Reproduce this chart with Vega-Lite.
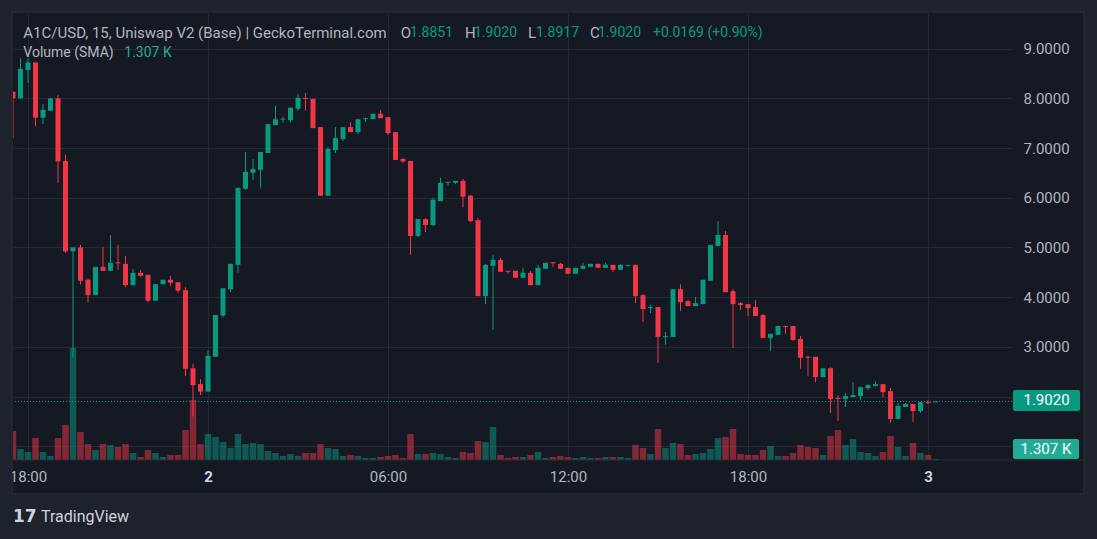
{
  "$schema": "https://vega.github.io/schema/vega-lite/v6.json",
  "width": 999,
  "height": 447,
  "autosize": {"type": "none"},
  "padding": {"left": 13, "top": 13, "right": 85, "bottom": 79},
  "background": "#151924",
  "config": {"view": {"stroke": null}, "font": "Roboto"},
  "datasets": {
    "one": [{}],
    "candles": [
      {"t": 17.5, "o": 8.13, "h": 8.14, "l": 7.2, "c": 8.0, "v": 3160},
      {"t": 17.75, "o": 8.0, "h": 8.81, "l": 7.99, "c": 8.59, "v": 1200},
      {"t": 18.0, "o": 8.57, "h": 8.8, "l": 8.31, "c": 8.72, "v": 870},
      {"t": 18.25, "o": 8.72, "h": 8.72, "l": 7.44, "c": 7.61, "v": 2400},
      {"t": 18.5, "o": 7.61, "h": 7.89, "l": 7.48, "c": 7.77, "v": 870},
      {"t": 18.75, "o": 7.75, "h": 8.01, "l": 7.74, "c": 8.0, "v": 440},
      {"t": 19.0, "o": 8.0, "h": 8.07, "l": 6.3, "c": 6.73, "v": 2400},
      {"t": 19.25, "o": 6.74, "h": 6.87, "l": 4.89, "c": 4.92, "v": 3820},
      {"t": 19.5, "o": 4.92, "h": 5.0, "l": 2.8, "c": 5.0, "v": 12210},
      {"t": 19.75, "o": 5.0, "h": 5.05, "l": 4.25, "c": 4.33, "v": 3050},
      {"t": 20.0, "o": 4.35, "h": 4.38, "l": 3.89, "c": 4.04, "v": 1740},
      {"t": 20.25, "o": 4.04, "h": 4.61, "l": 4.04, "c": 4.61, "v": 1090},
      {"t": 20.5, "o": 4.61, "h": 5.01, "l": 4.53, "c": 4.53, "v": 1740},
      {"t": 20.75, "o": 4.53, "h": 5.25, "l": 4.53, "c": 4.69, "v": 1640},
      {"t": 21.0, "o": 4.7, "h": 5.05, "l": 4.55, "c": 4.68, "v": 1420},
      {"t": 21.25, "o": 4.67, "h": 4.83, "l": 4.2, "c": 4.24, "v": 1740},
      {"t": 21.5, "o": 4.24, "h": 4.57, "l": 4.24, "c": 4.49, "v": 760},
      {"t": 21.75, "o": 4.49, "h": 4.55, "l": 4.41, "c": 4.43, "v": 330},
      {"t": 22.0, "o": 4.45, "h": 4.45, "l": 3.9, "c": 3.93, "v": 1090},
      {"t": 22.25, "o": 3.93, "h": 4.26, "l": 3.93, "c": 4.26, "v": 760},
      {"t": 22.5, "o": 4.26, "h": 4.35, "l": 4.26, "c": 4.35, "v": 330},
      {"t": 22.75, "o": 4.35, "h": 4.43, "l": 4.23, "c": 4.29, "v": 550},
      {"t": 23.0, "o": 4.3, "h": 4.3, "l": 4.09, "c": 4.13, "v": 550},
      {"t": 23.25, "o": 4.14, "h": 4.2, "l": 2.41, "c": 2.56, "v": 3270},
      {"t": 23.5, "o": 2.57, "h": 2.66, "l": 1.6, "c": 2.23, "v": 6540},
      {"t": 23.75, "o": 2.25, "h": 2.35, "l": 2.03, "c": 2.1, "v": 1740},
      {"t": 24.0, "o": 2.1, "h": 2.92, "l": 2.1, "c": 2.82, "v": 2830},
      {"t": 24.25, "o": 2.8, "h": 3.64, "l": 2.8, "c": 3.64, "v": 2510},
      {"t": 24.5, "o": 3.63, "h": 4.18, "l": 3.59, "c": 4.18, "v": 1960},
      {"t": 24.75, "o": 4.16, "h": 4.67, "l": 4.1, "c": 4.67, "v": 1310},
      {"t": 25.0, "o": 4.65, "h": 6.2, "l": 4.49, "c": 6.2, "v": 2830},
      {"t": 25.25, "o": 6.18, "h": 6.92, "l": 6.16, "c": 6.52, "v": 1740},
      {"t": 25.5, "o": 6.5, "h": 6.78, "l": 6.36, "c": 6.58, "v": 1850},
      {"t": 25.75, "o": 6.56, "h": 6.92, "l": 6.2, "c": 6.92, "v": 1740},
      {"t": 26.0, "o": 6.9, "h": 7.48, "l": 6.9, "c": 7.48, "v": 980},
      {"t": 26.25, "o": 7.46, "h": 7.85, "l": 7.46, "c": 7.58, "v": 760},
      {"t": 26.5, "o": 7.57, "h": 7.63, "l": 7.51, "c": 7.59, "v": 440},
      {"t": 26.75, "o": 7.56, "h": 7.81, "l": 7.51, "c": 7.81, "v": 650},
      {"t": 27.0, "o": 7.79, "h": 8.09, "l": 7.75, "c": 8.01, "v": 440},
      {"t": 27.25, "o": 8.01, "h": 8.11, "l": 7.75, "c": 7.99, "v": 760},
      {"t": 27.5, "o": 7.99, "h": 7.99, "l": 7.4, "c": 7.4, "v": 760},
      {"t": 27.75, "o": 7.42, "h": 7.42, "l": 6.04, "c": 6.04, "v": 1740},
      {"t": 28.0, "o": 6.04, "h": 7.02, "l": 6.04, "c": 6.98, "v": 1310},
      {"t": 28.25, "o": 6.96, "h": 7.42, "l": 6.9, "c": 7.2, "v": 1200},
      {"t": 28.5, "o": 7.18, "h": 7.42, "l": 7.14, "c": 7.42, "v": 440},
      {"t": 28.75, "o": 7.42, "h": 7.52, "l": 7.32, "c": 7.32, "v": 550},
      {"t": 29.0, "o": 7.32, "h": 7.58, "l": 7.28, "c": 7.58, "v": 440},
      {"t": 29.25, "o": 7.58, "h": 7.61, "l": 7.52, "c": 7.6, "v": 220},
      {"t": 29.5, "o": 7.58, "h": 7.69, "l": 7.58, "c": 7.69, "v": 220},
      {"t": 29.75, "o": 7.69, "h": 7.77, "l": 7.6, "c": 7.6, "v": 330},
      {"t": 30.0, "o": 7.62, "h": 7.62, "l": 7.26, "c": 7.3, "v": 440},
      {"t": 30.25, "o": 7.32, "h": 7.32, "l": 6.76, "c": 6.76, "v": 550},
      {"t": 30.5, "o": 6.78, "h": 6.8, "l": 6.7, "c": 6.73, "v": 220},
      {"t": 30.75, "o": 6.74, "h": 6.74, "l": 4.85, "c": 5.23, "v": 2830},
      {"t": 31.0, "o": 5.23, "h": 5.57, "l": 5.21, "c": 5.57, "v": 650},
      {"t": 31.25, "o": 5.57, "h": 5.59, "l": 5.31, "c": 5.45, "v": 650},
      {"t": 31.5, "o": 5.45, "h": 6.0, "l": 5.43, "c": 5.96, "v": 760},
      {"t": 31.75, "o": 5.93, "h": 6.4, "l": 5.93, "c": 6.3, "v": 650},
      {"t": 32.0, "o": 6.3, "h": 6.32, "l": 6.24, "c": 6.32, "v": 330},
      {"t": 32.25, "o": 6.3, "h": 6.34, "l": 6.28, "c": 6.34, "v": 220},
      {"t": 32.5, "o": 6.34, "h": 6.38, "l": 5.81, "c": 6.02, "v": 870},
      {"t": 32.75, "o": 6.04, "h": 6.06, "l": 5.51, "c": 5.53, "v": 760},
      {"t": 33.0, "o": 5.55, "h": 5.59, "l": 4.02, "c": 4.02, "v": 2070},
      {"t": 33.25, "o": 4.02, "h": 4.67, "l": 3.86, "c": 4.65, "v": 1960},
      {"t": 33.5, "o": 4.63, "h": 4.85, "l": 3.34, "c": 4.75, "v": 3600},
      {"t": 33.75, "o": 4.75, "h": 4.79, "l": 4.51, "c": 4.51, "v": 550},
      {"t": 34.0, "o": 4.53, "h": 4.53, "l": 4.47, "c": 4.51, "v": 220},
      {"t": 34.25, "o": 4.53, "h": 4.53, "l": 4.39, "c": 4.39, "v": 330},
      {"t": 34.5, "o": 4.39, "h": 4.59, "l": 4.39, "c": 4.49, "v": 330},
      {"t": 34.75, "o": 4.49, "h": 4.53, "l": 4.24, "c": 4.24, "v": 550},
      {"t": 35.0, "o": 4.24, "h": 4.65, "l": 4.24, "c": 4.59, "v": 870},
      {"t": 35.25, "o": 4.57, "h": 4.69, "l": 4.57, "c": 4.69, "v": 220},
      {"t": 35.5, "o": 4.7, "h": 4.71, "l": 4.61, "c": 4.68, "v": 330},
      {"t": 35.75, "o": 4.67, "h": 4.69, "l": 4.57, "c": 4.57, "v": 440},
      {"t": 36.0, "o": 4.59, "h": 4.59, "l": 4.47, "c": 4.47, "v": 330},
      {"t": 36.25, "o": 4.47, "h": 4.59, "l": 4.47, "c": 4.59, "v": 220},
      {"t": 36.5, "o": 4.57, "h": 4.69, "l": 4.57, "c": 4.63, "v": 330},
      {"t": 36.75, "o": 4.61, "h": 4.67, "l": 4.61, "c": 4.67, "v": 220},
      {"t": 37.0, "o": 4.67, "h": 4.67, "l": 4.59, "c": 4.59, "v": 220},
      {"t": 37.25, "o": 4.59, "h": 4.69, "l": 4.59, "c": 4.65, "v": 330},
      {"t": 37.5, "o": 4.65, "h": 4.65, "l": 4.51, "c": 4.55, "v": 330},
      {"t": 37.75, "o": 4.55, "h": 4.67, "l": 4.55, "c": 4.65, "v": 330},
      {"t": 38.0, "o": 4.63, "h": 4.65, "l": 4.61, "c": 4.65, "v": 220},
      {"t": 38.25, "o": 4.65, "h": 4.65, "l": 3.88, "c": 4.02, "v": 1640},
      {"t": 38.5, "o": 4.04, "h": 4.06, "l": 3.5, "c": 3.76, "v": 1310},
      {"t": 38.75, "o": 3.78, "h": 3.84, "l": 3.68, "c": 3.8, "v": 650},
      {"t": 39.0, "o": 3.8, "h": 3.8, "l": 2.68, "c": 3.2, "v": 3380},
      {"t": 39.25, "o": 3.2, "h": 3.3, "l": 3.04, "c": 3.22, "v": 1310},
      {"t": 39.5, "o": 3.2, "h": 4.16, "l": 3.2, "c": 4.16, "v": 1850},
      {"t": 39.75, "o": 4.16, "h": 4.26, "l": 3.72, "c": 3.9, "v": 1740},
      {"t": 40.0, "o": 3.92, "h": 3.94, "l": 3.82, "c": 3.82, "v": 550},
      {"t": 40.25, "o": 3.82, "h": 4.0, "l": 3.82, "c": 3.88, "v": 650},
      {"t": 40.5, "o": 3.86, "h": 4.35, "l": 3.86, "c": 4.35, "v": 760},
      {"t": 40.75, "o": 4.33, "h": 5.05, "l": 4.33, "c": 5.05, "v": 1200},
      {"t": 41.0, "o": 5.03, "h": 5.53, "l": 5.03, "c": 5.25, "v": 2400},
      {"t": 41.25, "o": 5.25, "h": 5.33, "l": 4.1, "c": 4.1, "v": 2510},
      {"t": 41.5, "o": 4.12, "h": 4.16, "l": 2.98, "c": 3.86, "v": 3380},
      {"t": 41.75, "o": 3.88, "h": 3.9, "l": 3.74, "c": 3.84, "v": 650},
      {"t": 42.0, "o": 3.86, "h": 3.86, "l": 3.62, "c": 3.78, "v": 550},
      {"t": 42.25, "o": 3.8, "h": 3.94, "l": 3.62, "c": 3.62, "v": 550},
      {"t": 42.5, "o": 3.64, "h": 3.66, "l": 3.18, "c": 3.18, "v": 1090},
      {"t": 42.75, "o": 3.18, "h": 3.26, "l": 2.92, "c": 3.26, "v": 1530},
      {"t": 43.0, "o": 3.24, "h": 3.42, "l": 3.24, "c": 3.42, "v": 440},
      {"t": 43.25, "o": 3.42, "h": 3.42, "l": 3.26, "c": 3.4, "v": 440},
      {"t": 43.5, "o": 3.42, "h": 3.42, "l": 3.12, "c": 3.14, "v": 760},
      {"t": 43.75, "o": 3.16, "h": 3.22, "l": 2.56, "c": 2.78, "v": 1640},
      {"t": 44.0, "o": 2.8, "h": 2.82, "l": 2.41, "c": 2.78, "v": 1420},
      {"t": 44.25, "o": 2.8, "h": 2.8, "l": 2.29, "c": 2.39, "v": 1310},
      {"t": 44.5, "o": 2.39, "h": 2.57, "l": 2.39, "c": 2.57, "v": 550},
      {"t": 44.75, "o": 2.57, "h": 2.59, "l": 1.67, "c": 1.95, "v": 2620},
      {"t": 45.0, "o": 1.97, "h": 2.03, "l": 1.51, "c": 1.95, "v": 3270},
      {"t": 45.25, "o": 1.95, "h": 2.07, "l": 1.79, "c": 2.01, "v": 1640},
      {"t": 45.5, "o": 1.99, "h": 2.29, "l": 1.99, "c": 2.03, "v": 2290},
      {"t": 45.75, "o": 2.01, "h": 2.19, "l": 1.93, "c": 2.19, "v": 870},
      {"t": 46.0, "o": 2.17, "h": 2.25, "l": 2.13, "c": 2.23, "v": 760},
      {"t": 46.25, "o": 2.21, "h": 2.31, "l": 2.21, "c": 2.25, "v": 440},
      {"t": 46.5, "o": 2.25, "h": 2.25, "l": 1.99, "c": 2.09, "v": 870},
      {"t": 46.75, "o": 2.11, "h": 2.17, "l": 1.47, "c": 1.55, "v": 2620},
      {"t": 47.0, "o": 1.55, "h": 1.87, "l": 1.55, "c": 1.81, "v": 1420},
      {"t": 47.25, "o": 1.79, "h": 1.87, "l": 1.79, "c": 1.85, "v": 440},
      {"t": 47.5, "o": 1.85, "h": 1.85, "l": 1.49, "c": 1.71, "v": 1850},
      {"t": 47.75, "o": 1.71, "h": 1.89, "l": 1.67, "c": 1.89, "v": 760},
      {"t": 48.0, "o": 1.89, "h": 1.93, "l": 1.85, "c": 1.87, "v": 550},
      {"t": 48.25, "o": 1.8851, "h": 1.902, "l": 1.8851, "c": 1.902, "v": 110}
    ]
  },
  "layer": [
    {
      "data": {"name": "candles"},
      "mark": {"type": "bar", "width": 6.5, "clip": true},
      "encoding": {
        "x": {"field": "t", "type": "quantitative", "scale": {"domain": [17.5, 50.8], "nice": false, "zero": false, "padding": 0}},
        "y": {"field": "v", "type": "quantitative", "scale": {"domain": [0, 48700], "nice": false, "zero": true}, "axis": null},
        "color": {"condition": {"test": "datum.c >= datum.o", "value": "#089981"}, "value": "#f23645"},
        "opacity": {"value": 0.5}
      }
    },
    {
      "data": {"name": "one"},
      "layer": [
        {
          "mark": {"type": "rule", "color": "#089981", "strokeDash": [1, 2], "strokeWidth": 1},
          "encoding": {"y": {"datum": 1.902}}
        },
        {
          "data": {"name": "candles"},
          "mark": {"type": "rule", "strokeWidth": 1, "clip": true},
          "encoding": {
            "x": {
              "field": "t", "type": "quantitative",
              "scale": {"domain": [17.5, 50.8], "nice": false, "zero": false, "padding": 0},
              "axis": {
                "title": null, "values": [18, 24, 30, 36, 42, 48],
                "labelExpr": "datum.value % 24 == 0 ? '' + (datum.value / 24 + 1) : ((datum.value % 24) < 10 ? '0' : '') + (datum.value % 24) + ':00'",
                "grid": true, "gridColor": "#252935", "gridWidth": 1,
                "domain": false, "ticks": false, "tickSize": 0,
                "labelPadding": 9, "labelFontSize": 15, "labelFont": "Roboto",
                "labelColor": {"condition": {"test": "datum.value % 24 == 0", "value": "#d1d4dc"}, "value": "#b2b5be"},
                "labelFontWeight": {"condition": {"test": "datum.value % 24 == 0", "value": "bold"}, "value": "normal"},
                "labelFlush": false, "labelOverlap": false
              }
            },
            "y": {
              "field": "l", "type": "quantitative",
              "scale": {"domain": [0.724, 9.716], "nice": false, "zero": false},
              "axis": {
                "title": null, "orient": "right", "values": [1, 2, 3, 4, 5, 6, 7, 8, 9],
                "format": ".4f",
                "labelExpr": "datum.value >= 3 ? datum.label : ''",
                "grid": true, "gridColor": "#252935", "gridWidth": 1,
                "domain": false, "ticks": false, "tickSize": 0,
                "labelPadding": 11, "labelFontSize": 15, "labelFont": "Roboto", "labelColor": "#b2b5be",
                "labelOverlap": false, "labelFlush": false
              }
            },
            "y2": {"field": "h"},
            "color": {"condition": {"test": "datum.c >= datum.o", "value": "#089981"}, "value": "#f23645"}
          }
        },
        {
          "data": {"name": "candles"},
          "mark": {"type": "bar", "width": 5, "clip": true},
          "encoding": {
            "x": {"field": "t", "type": "quantitative"},
            "y": {"field": "o", "type": "quantitative"},
            "y2": {"field": "c"},
            "color": {"condition": {"test": "datum.c >= datum.o", "value": "#089981"}, "value": "#f23645"}
          }
        },
        {
          "mark": {"type": "text", "align": "left", "baseline": "middle", "fontSize": 15, "font": "Roboto", "color": "#b2b5be", "text": "A1C/USD, 15, Uniswap V2 (Base) | GeckoTerminal.com"},
          "encoding": {"x": {"datum": 17.8444}, "y": {"datum": 9.314}}
        },
        {
          "mark": {"type": "text", "align": "left", "baseline": "middle", "fontSize": 15, "font": "Roboto", "color": "#b2b5be", "text": "O"},
          "encoding": {"x": {"datum": 30.423}, "y": {"datum": 9.314}}
        },
        {
          "mark": {"type": "text", "align": "left", "baseline": "middle", "fontSize": 14, "font": "Roboto", "color": "#089981", "text": "1.8851"},
          "encoding": {"x": {"datum": 30.733}, "y": {"datum": 9.314}}
        },
        {
          "mark": {"type": "text", "align": "left", "baseline": "middle", "fontSize": 15, "font": "Roboto", "color": "#b2b5be", "text": "H"},
          "encoding": {"x": {"datum": 32.567}, "y": {"datum": 9.314}}
        },
        {
          "mark": {"type": "text", "align": "left", "baseline": "middle", "fontSize": 14, "font": "Roboto", "color": "#089981", "text": "1.9020"},
          "encoding": {"x": {"datum": 32.867}, "y": {"datum": 9.314}}
        },
        {
          "mark": {"type": "text", "align": "left", "baseline": "middle", "fontSize": 15, "font": "Roboto", "color": "#b2b5be", "text": "L"},
          "encoding": {"x": {"datum": 34.667}, "y": {"datum": 9.314}}
        },
        {
          "mark": {"type": "text", "align": "left", "baseline": "middle", "fontSize": 14, "font": "Roboto", "color": "#089981", "text": "1.8917"},
          "encoding": {"x": {"datum": 34.933}, "y": {"datum": 9.314}}
        },
        {
          "mark": {"type": "text", "align": "left", "baseline": "middle", "fontSize": 15, "font": "Roboto", "color": "#b2b5be", "text": "C"},
          "encoding": {"x": {"datum": 36.733}, "y": {"datum": 9.314}}
        },
        {
          "mark": {"type": "text", "align": "left", "baseline": "middle", "fontSize": 14, "font": "Roboto", "color": "#089981", "text": "1.9020"},
          "encoding": {"x": {"datum": 37.0}, "y": {"datum": 9.314}}
        },
        {
          "mark": {"type": "text", "align": "left", "baseline": "middle", "fontSize": 14, "font": "Roboto", "color": "#089981", "text": "+0.0169 (+0.90%)"},
          "encoding": {"x": {"datum": 38.833}, "y": {"datum": 9.314}}
        },
        {
          "mark": {"type": "text", "align": "left", "baseline": "middle", "fontSize": 14, "font": "Roboto", "color": "#b2b5be", "text": "Volume (SMA)"},
          "encoding": {"x": {"datum": 17.8444}, "y": {"datum": 8.911}}
        },
        {
          "mark": {"type": "text", "align": "left", "baseline": "middle", "fontSize": 14, "font": "Roboto", "color": "#22ab94", "text": "1.307 K"},
          "encoding": {"x": {"datum": 21.21}, "y": {"datum": 8.911}}
        },
        {
          "mark": {"type": "rule", "color": "#2a2e39", "strokeWidth": 1},
          "encoding": {"x": {"datum": 17.4667}, "x2": {"datum": 53.2}, "y": {"datum": 0.724}}
        },
        {
          "mark": {"type": "rect", "color": "#1e222d"},
          "encoding": {"x": {"datum": 17.0}, "x2": {"datum": 53.7}, "y": {"datum": 10.0}, "y2": {"datum": 9.7361}}
        },
        {
          "mark": {"type": "rect", "color": "#1e222d"},
          "encoding": {"x": {"datum": 17.0}, "x2": {"datum": 53.7}, "y": {"datum": 0.0402}, "y2": {"datum": -0.9}}
        },
        {
          "mark": {"type": "rect", "color": "#1e222d"},
          "encoding": {"x": {"datum": 17.0}, "x2": {"datum": 17.4667}, "y": {"datum": 9.7361}, "y2": {"datum": 0.0402}}
        },
        {
          "mark": {"type": "rect", "color": "#1e222d"},
          "encoding": {"x": {"datum": 53.2}, "x2": {"datum": 53.7}, "y": {"datum": 9.7361}, "y2": {"datum": 0.0402}}
        },
        {
          "mark": {"type": "rect", "fillOpacity": 0, "stroke": "#2a2e39", "strokeWidth": 1},
          "encoding": {"x": {"datum": 17.4667}, "x2": {"datum": 53.2}, "y": {"datum": 9.7361}, "y2": {"datum": 0.0402}}
        },
        {
          "mark": {"type": "rect", "color": "#089981", "cornerRadius": 2},
          "encoding": {"x": {"datum": 50.8333}, "x2": {"datum": 53.0667}, "y": {"datum": 2.1323}, "y2": {"datum": 1.7098}}
        },
        {
          "mark": {"type": "text", "align": "center", "baseline": "middle", "fontSize": 15, "font": "Roboto", "color": "#ffffff", "text": "1.9020"},
          "encoding": {"x": {"datum": 51.95}, "y": {"datum": 1.921}}
        },
        {
          "mark": {"type": "rect", "color": "#22ab94", "cornerRadius": 2},
          "encoding": {"x": {"datum": 50.8333}, "x2": {"datum": 53.0333}, "y": {"datum": 1.1466}, "y2": {"datum": 0.7443}}
        },
        {
          "mark": {"type": "text", "align": "center", "baseline": "middle", "fontSize": 15, "font": "Roboto", "color": "#ffffff", "text": "1.307 K"},
          "encoding": {"x": {"datum": 51.93}, "y": {"datum": 0.9455}}
        },
        {
          "mark": {"type": "text", "align": "left", "baseline": "middle", "fontSize": 17, "font": "DejaVu Sans", "fontWeight": "bold", "color": "#d1d4dc", "text": "17"},
          "encoding": {"x": {"datum": 17.5}, "y": {"datum": -0.4225}}
        },
        {
          "mark": {"type": "text", "align": "left", "baseline": "middle", "fontSize": 16, "font": "Roboto", "color": "#d1d4dc", "text": "TradingView"},
          "encoding": {"x": {"datum": 18.4333}, "y": {"datum": -0.4225}}
        }
      ]
    }
  ],
  "resolve": {"scale": {"y": "independent"}}
}
